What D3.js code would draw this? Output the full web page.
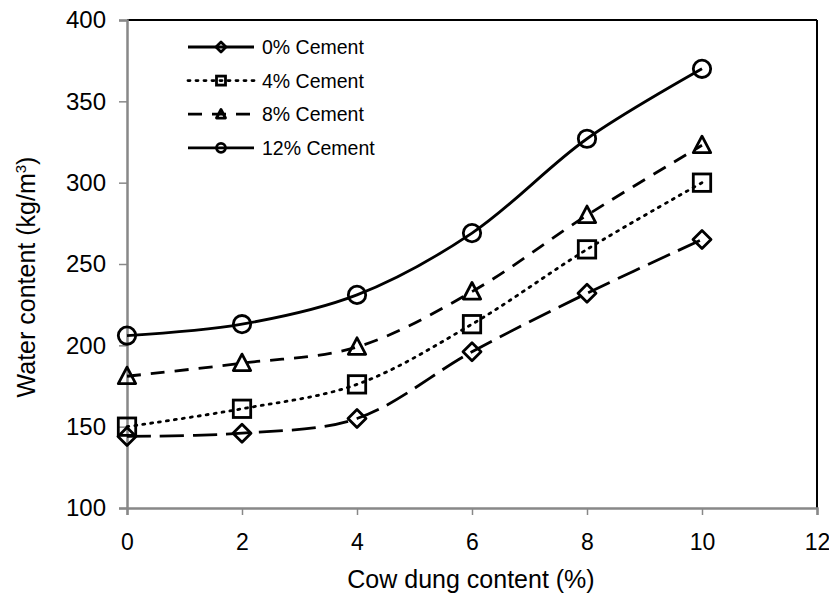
<!DOCTYPE html>
<html>
<head>
<meta charset="utf-8">
<script src="https://cdn.jsdelivr.net/npm/d3@7"></script>
<style>
  body { margin: 0; background: #fff; }
  svg { font-family: "Liberation Sans", Arial, sans-serif; }
</style>
</head>
<body>
<script>
var svgWidth = 829;
var svgHeight = 597;

var Margin = { top: 20, right: 12, bottom: 89, left: 127 };
var Width = svgWidth - Margin.left - Margin.right;
var Height = svgHeight - Margin.top - Margin.bottom;

// data
var cowDung = [0, 2, 4, 6, 8, 10];
var seriesNames = ["0% Cement", "4% Cement", "8% Cement", "12% Cement"];
var cement0 = [144, 146, 155, 196, 232, 265];
var cement4 = [150, 161, 176, 213, 259, 300];
var cement8 = [181, 189, 199, 233, 280, 323];
var cement12 = [206, 213, 231, 269, 327, 370];
var xTicks = [0, 2, 4, 6, 8, 10, 12];
var yTicks = [100, 150, 200, 250, 300, 350, 400];

var seriesValues = [cement0, cement4, cement8, cement12];
var markers = ["diamond", "square", "triangle", "circle"];
var dashes = ["24,9", "2,6", "14,10", null];
var legendDashes = [null, "2,6", "14,10", null];

var svg = d3.select("body").append("svg")
  .attr("width", svgWidth)
  .attr("height", svgHeight);

var chartGroup = svg.append("g")
  .attr("transform", `translate(${Margin.left}, ${Margin.top})`);

var xScale = d3.scaleLinear().domain([0, 12]).range([0, Width]);
var yScale = d3.scaleLinear().domain([100, 400]).range([Height, 0]);

// plot frame: top and right black
chartGroup.append("line")
  .attr("x1", 0).attr("x2", Width).attr("y1", 0).attr("y2", 0)
  .attr("stroke", "#000").attr("stroke-width", 2);
chartGroup.append("line")
  .attr("x1", Width).attr("x2", Width).attr("y1", 0).attr("y2", Height)
  .attr("stroke", "#000").attr("stroke-width", 2);

var leftAxis = d3.axisLeft(yScale).tickValues(yTicks).tickSize(8).tickPadding(13);
var bottomAxis = d3.axisBottom(xScale).tickValues(xTicks).tickSize(7).tickPadding(19);

var yG = chartGroup.append("g").call(leftAxis);
var xG = chartGroup.append("g")
  .attr("transform", `translate(0, ${Height})`)
  .call(bottomAxis);

[yG, xG].forEach(function(g) {
  g.select(".domain").attr("stroke", "#888").attr("stroke-width", 2.5);
  g.selectAll(".tick line").attr("stroke", "#888").attr("stroke-width", 1.5);
  g.selectAll(".tick text")
    .attr("fill", "#000")
    .style("font-family", "'Liberation Sans', Arial, sans-serif");
});
yG.selectAll(".tick text").style("font-size", "24px");
xG.selectAll(".tick text").style("font-size", "23px");

function drawMarker(g, type, x, y, s, sw) {
  if (type === "diamond") {
    g.append("path")
      .attr("d", `M${x},${y - s}L${x + s},${y}L${x},${y + s}L${x - s},${y}Z`)
      .attr("fill", "none").attr("stroke", "#000").attr("stroke-width", sw)
      .attr("stroke-linejoin", "round");
  } else if (type === "square") {
    g.append("rect")
      .attr("x", x - s).attr("y", y - s).attr("width", 2 * s).attr("height", 2 * s)
      .attr("fill", "none").attr("stroke", "#000").attr("stroke-width", sw);
  } else if (type === "triangle") {
    g.append("path")
      .attr("d", `M${x},${y - s * 1.05}L${x + s},${y + s * 0.85}L${x - s},${y + s * 0.85}Z`)
      .attr("fill", "none").attr("stroke", "#000").attr("stroke-width", sw)
      .attr("stroke-linejoin", "round");
  } else {
    g.append("circle")
      .attr("cx", x).attr("cy", y).attr("r", s)
      .attr("fill", "none").attr("stroke", "#000").attr("stroke-width", sw);
  }
}

var line = d3.line()
  .x((d, i) => xScale(cowDung[i]))
  .y(d => yScale(d))
  .curve(d3.curveCatmullRom.alpha(0.5));

seriesValues.forEach(function(vals, k) {
  chartGroup.append("path")
    .datum(vals)
    .attr("d", line)
    .attr("fill", "none")
    .attr("stroke", "#000")
    .attr("stroke-width", 2.8)
    .attr("stroke-linecap", k === 1 ? "round" : "butt")
    .attr("stroke-dasharray", dashes[k]);
  var mg = chartGroup.append("g");
  vals.forEach(function(v, i) {
    drawMarker(mg, markers[k], xScale(cowDung[i]), yScale(v), k === 0 ? 9 : 8.7, 2.8);
  });
});

// legend
var legend = svg.append("g");
seriesNames.forEach(function(name, k) {
  var ly = 47 + k * 33.6;
  legend.append("line")
    .attr("x1", 188).attr("x2", 254).attr("y1", ly).attr("y2", ly)
    .attr("stroke", "#000").attr("stroke-width", 2.8)
    .attr("stroke-linecap", k === 1 ? "round" : "butt")
    .attr("stroke-dasharray", legendDashes[k]);
  drawMarker(legend, markers[k], 221, ly, k === 0 ? 5 : 4.5, 2.8);
  legend.append("text")
    .attr("x", 262).attr("y", ly + 7)
    .style("font-size", "19.5px")
    .text(name);
});

// axis titles
svg.append("text")
  .attr("x", 471)
  .attr("y", 588)
  .style("text-anchor", "middle")
  .style("font-size", "25px")
  .text("Cow dung content (%)");

var yt = svg.append("text")
  .attr("transform", "rotate(-90)")
  .attr("x", -277)
  .attr("y", 35)
  .style("text-anchor", "middle")
  .style("font-size", "25px");
yt.append("tspan").text("Water content (kg/m");
yt.append("tspan").attr("dy", -9).style("font-size", "15px").text("3");
yt.append("tspan").attr("dy", 9).text(")");
</script>
</body>
</html>
